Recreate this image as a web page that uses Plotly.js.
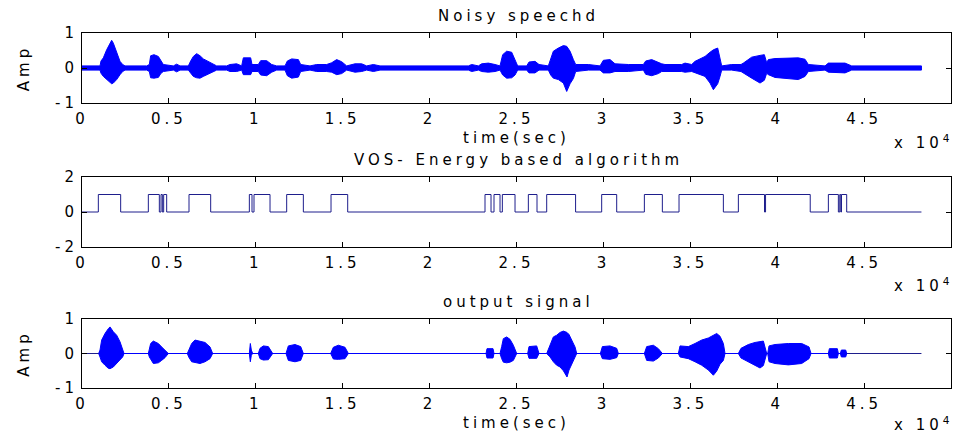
<!DOCTYPE html>
<html><head><meta charset="utf-8">
<script src="https://cdn.plot.ly/plotly-3.0.1.min.js"></script>
<style>
html,body{margin:0;padding:0;background:#fff;}
#chart{width:955px;height:436px;}
#chart .main-svg text{letter-spacing:4px;}
</style></head><body><div id="chart"></div>
<script>
// ---- data (samples on x, amplitude on y) ----
const signalLength = 48300;
const tickValues = [0,5000,10000,15000,20000,25000,30000,35000,40000,45000,50000];
const tickLabels = ['0','0.5','1','1.5','2','2.5','3','3.5','4','4.5','5'];

// Noisy speech: upper / lower envelope of the waveform
const noisyTime  = [0,1036,1093,1228,1419,1611,1707,1803,1995,2187,2340,2474,3721,3874,3951,4143,4392,4546,4680,5255,5447,5639,6118,6253,6406,6598,6790,6982,7269,7557,7749,8324,8516,8900,9187,9283,9705,9782,10146,10281,10626,10914,11201,11681,11815,12064,12448,12582,13119,13503,14078,14366,14653,14941,15229,15709,16092,16380,16764,17147,17243,22230,22421,22806,22997,23380,23764,24052,24205,24435,24723,24915,25068,25586,25720,26065,26295,26832,26967,27120,27408,27696,27888,28081,28273,28405,29134,29806,29997,30381,30669,31436,32299,32433,32779,33162,33354,33545,34504,34696,35080,35272,35559,35847,36135,36327,36576,36710,36806,37381,37918,38053,38532,39012,39261,39395,39491,39875,40642,41217,41601,41793,42752,42944,43903,44286,48300];
const noisyUpper = [0.06,0.06,0.2,0.29,0.52,0.71,0.79,0.71,0.43,0.19,0.1,0.06,0.06,0.1,0.35,0.38,0.33,0.2,0.1,0.06,0.11,0.06,0.06,0.2,0.33,0.41,0.35,0.26,0.19,0.1,0.06,0.06,0.1,0.12,0.06,0.29,0.29,0.1,0.1,0.21,0.21,0.1,0.06,0.06,0.2,0.26,0.24,0.1,0.06,0.1,0.1,0.15,0.24,0.18,0.06,0.12,0.12,0.06,0.1,0.06,0.06,0.06,0.1,0.06,0.12,0.14,0.1,0.06,0.38,0.48,0.45,0.2,0.06,0.06,0.17,0.19,0.1,0.06,0.24,0.48,0.57,0.64,0.62,0.48,0.24,0.1,0.1,0.06,0.22,0.24,0.12,0.1,0.1,0.2,0.24,0.15,0.12,0.1,0.1,0.14,0.1,0.19,0.26,0.33,0.45,0.52,0.57,0.3,0.06,0.1,0.1,0.14,0.31,0.36,0.38,0.15,0.24,0.27,0.29,0.29,0.25,0.1,0.06,0.14,0.14,0.06,0.06];
const noisyLower = [-0.06,-0.06,-0.15,-0.24,-0.33,-0.41,-0.45,-0.43,-0.33,-0.19,-0.1,-0.06,-0.06,-0.1,-0.28,-0.29,-0.27,-0.15,-0.1,-0.06,-0.11,-0.06,-0.06,-0.15,-0.24,-0.28,-0.29,-0.24,-0.17,-0.1,-0.06,-0.06,-0.1,-0.1,-0.06,-0.19,-0.19,-0.1,-0.1,-0.2,-0.22,-0.12,-0.06,-0.06,-0.22,-0.29,-0.26,-0.1,-0.06,-0.1,-0.1,-0.12,-0.19,-0.16,-0.06,-0.12,-0.1,-0.06,-0.1,-0.06,-0.06,-0.06,-0.1,-0.06,-0.1,-0.12,-0.1,-0.06,-0.2,-0.29,-0.28,-0.2,-0.06,-0.06,-0.14,-0.14,-0.06,-0.06,-0.2,-0.29,-0.33,-0.43,-0.67,-0.45,-0.3,-0.1,-0.06,-0.06,-0.14,-0.14,-0.1,-0.1,-0.06,-0.18,-0.22,-0.16,-0.1,-0.1,-0.1,-0.12,-0.1,-0.14,-0.19,-0.24,-0.43,-0.62,-0.45,-0.24,-0.06,-0.06,-0.1,-0.16,-0.29,-0.43,-0.35,-0.15,-0.19,-0.27,-0.31,-0.33,-0.24,-0.1,-0.06,-0.12,-0.14,-0.06,-0.06];

// Voice activity decision (VOS): onsets / offsets of each active segment
const vosOn  = [940,3817,4546,4699,6157,9629,9897,11777,14328,23188,23706,24186,25682,26737,29901,32357,34351,37765,39330,42944,43600,43700];
const vosOff = [2225,4450,4623,4872,7404,9782,10818,12736,15287,23534,24052,24915,26180,28400,30765,33392,36902,39270,41900,43519,43660,43999];

// Output signal: envelope of the kept (voiced) parts, zero elsewhere
const outTime  = [959,1036,1132,1324,1515,1611,1803,1995,2187,2340,2417,3817,3874,3951,4105,4392,4584,4776,4968,6061,6138,6310,6502,6790,7078,7365,7518,9628,9686,9743,9820,10146,10242,10434,10722,10971,11738,11873,12256,12582,12735,14308,14462,14750,15133,15325,23246,23303,23649,23706,24052,24147,24243,24435,24627,24819,25011,25644,25720,26161,26295,26737,26929,27120,27312,27504,27696,27907,28022,28175,28367,28463,29825,29940,30381,30765,30860,32357,32491,32874,33162,33392,34313,34409,34888,35272,35656,36040,36327,36519,36711,36902,36998,37765,37918,38340,38724,39012,39204,39395,39453,39530,39875,40642,41409,41831,41946,42944,43001,43461,43519,43634,43691,43941,43999];
const outUpper = [0,0.1,0.39,0.58,0.72,0.77,0.63,0.53,0.34,0.1,0,0,0.1,0.29,0.36,0.29,0.19,0.1,0,0,0.1,0.29,0.39,0.36,0.32,0.19,0,0,0.29,0.1,0,0,0.15,0.22,0.2,0,0,0.22,0.26,0.2,0,0,0.18,0.24,0.18,0,0,0.14,0.14,0,0,0.2,0.43,0.48,0.41,0.24,0,0,0.2,0.22,0,0,0.24,0.48,0.53,0.61,0.65,0.61,0.55,0.39,0.19,0,0,0.2,0.22,0.15,0,0,0.2,0.24,0.14,0,0,0.22,0.2,0.29,0.39,0.45,0.53,0.58,0.5,0.29,0,0,0.15,0.26,0.32,0.35,0.36,0,0,0.22,0.26,0.29,0.29,0.19,0,0,0.14,0.14,0,0,0.1,0.1,0];
const outLower = [0,-0.1,-0.24,-0.34,-0.43,-0.44,-0.39,-0.29,-0.19,-0.1,0,0,-0.1,-0.15,-0.29,-0.27,-0.2,-0.12,0,0,-0.1,-0.24,-0.27,-0.29,-0.24,-0.15,0,0,-0.24,-0.05,0,0,-0.15,-0.19,-0.18,0,0,-0.2,-0.24,-0.2,0,0,-0.16,-0.17,-0.15,0,0,-0.13,-0.13,0,0,-0.15,-0.25,-0.27,-0.25,-0.2,0,0,-0.14,-0.14,0,0,-0.1,-0.24,-0.34,-0.39,-0.5,-0.68,-0.48,-0.29,-0.1,0,0,-0.15,-0.17,-0.12,0,0,-0.2,-0.22,-0.13,0,0,-0.1,-0.15,-0.24,-0.34,-0.48,-0.63,-0.51,-0.31,-0.2,0,0,-0.13,-0.24,-0.34,-0.42,-0.35,0,0,-0.24,-0.29,-0.33,-0.29,-0.15,0,0,-0.13,-0.13,0,0,-0.1,-0.1,0];

// ---- build traces ----
function envelope(t, up, lo){
  return {x: t.concat(t.slice().reverse()), y: up.concat(lo.slice().reverse())};
}
const blue = 'rgb(0,0,255)';
const navy = 'rgb(30,30,140)';

const topEnv = envelope(noisyTime, noisyUpper, noisyLower);
const outEnv = envelope(outTime, outUpper, outLower);

const vx = [0], vy = [0];
for (let i = 0; i < vosOn.length; i++){
  vx.push(vosOn[i], vosOn[i], vosOff[i], vosOff[i]);
  vy.push(0, 1, 1, 0);
}
vx.push(signalLength); vy.push(0);

const traces = [
  {x: topEnv.x, y: topEnv.y, xaxis:'x', yaxis:'y', type:'scatter', mode:'lines', fill:'toself',
   fillcolor: blue, line:{color: blue, width:1}, hoverinfo:'skip', showlegend:false},
  {x: vx, y: vy, xaxis:'x2', yaxis:'y2', type:'scatter', mode:'lines',
   line:{color: navy, width:1}, hoverinfo:'skip', showlegend:false},
  {x: [0, signalLength], y: [0, 0], xaxis:'x3', yaxis:'y3', type:'scatter', mode:'lines',
   line:{color: navy, width:1}, hoverinfo:'skip', showlegend:false},
  {x: outEnv.x, y: outEnv.y, xaxis:'x3', yaxis:'y3', type:'scatter', mode:'lines', fill:'toself',
   fillcolor: blue, line:{color: blue, width:1}, hoverinfo:'skip', showlegend:false}
];

// ---- layout ----
const W = 955, H = 436;
const fx = p => p / W;
const fy = p => 1 - p / H;
const font = {family: 'DejaVu Sans, Arial, sans-serif', size: 15, color: '#000'};

function xax(anchor, withTitle){
  const a = {domain:[fx(82), fx(951)], range:[0,50000], anchor: anchor,
    tickmode:'array', tickvals: tickValues, ticktext: tickLabels,
    ticks:'inside', ticklen:5, tickcolor:'#000', tickwidth:1, ticklabelstandoff: 2,
    showline:true, linecolor:'#000', linewidth:1, mirror:'ticks',
    showgrid:false, zeroline:false, tickfont: font, automargin:false, fixedrange:true};
  if (withTitle) a.title = {text:'time(sec)', font: font, standoff: 5};
  return a;
}
function yax(anchor, top, bottom, rng, vals, withTitle){
  const a = {domain:[fy(bottom), fy(top)], range: rng, anchor: anchor,
    tickmode:'array', tickvals: vals, ticktext: vals.map(String),
    ticks:'inside', ticklen:5, tickcolor:'#000', tickwidth:1,
    showline:true, linecolor:'#000', linewidth:1, mirror:'ticks',
    showgrid:false, zeroline:false, tickfont: font, automargin:false, fixedrange:true};
  if (withTitle) a.title = {text:'Amp', font: font, standoff: 29};
  return a;
}

const ann = (text, xp, yp, xanchor) => ({text: text, xref:'paper', yref:'paper',
  x: fx(xp), y: fy(yp), xanchor: xanchor || 'center', yanchor:'middle', showarrow:false, font: font});

const layout = {
  width: W, height: H, margin:{l:0, r:0, t:0, b:0},
  paper_bgcolor:'#fff', plot_bgcolor:'#fff', font: font, showlegend:false,
  xaxis:  xax('y', true),
  yaxis:  yax('x', 33, 103, [-1,1], [-1,0,1], true),
  xaxis2: xax('y2', false),
  yaxis2: yax('x2', 177, 247, [-2,2], [-2,0,2], false),
  xaxis3: xax('y3', true),
  yaxis3: yax('x3', 319, 388, [-1,1], [-1,0,1], true),
  annotations: [
    ann('Noisy speechd', 518, 16),
    ann('VOS- Energy based algorithm', 518, 160),
    ann('output signal', 518, 302),
    ann('x 10<sup>4</sup>', 946, 142, 'right'),
    ann('x 10<sup>4</sup>', 946, 285, 'right'),
    ann('x 10<sup>4</sup>', 946, 424, 'right')
  ]
};

Plotly.newPlot('chart', traces, layout, {displayModeBar:false, staticPlot:true});
</script></body></html>
